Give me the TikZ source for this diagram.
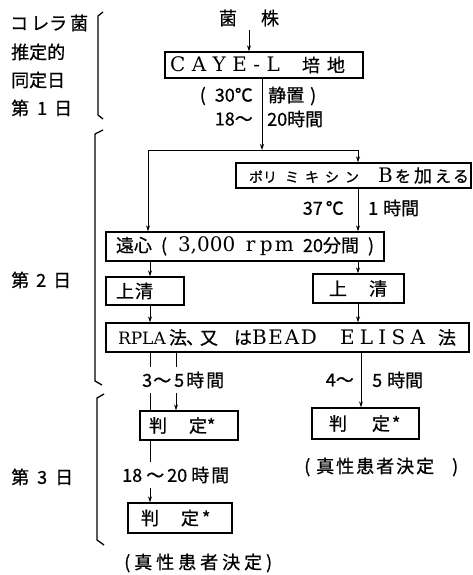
\documentclass[tikz,border=0pt]{standalone}
\usepackage{fontspec}
\newfontfamily\jp[FakeBold=0.7]{Noto Sans CJK JP}
\newfontfamily\lat{DejaVu Serif}
\usetikzlibrary{arrows.meta}
\newcommand\jpf{\jp\fontsize{18}{20}\selectfont}
\newcommand\jps{\jp\fontsize{14}{16}\selectfont}
\newcommand\jpm{\jp\fontsize{16}{18}\selectfont}
\newcommand\lmf{\lat\fontsize{20}{22}\selectfont}
\newcommand\lms{\lat\fontsize{17}{20}\selectfont}
\newcommand\putx[2]{\rlap{\hspace*{#1}#2}}
\tikzset{
  box/.style={draw, line width=1.4pt, inner sep=0pt, font=\jpf},
  txt/.style={inner sep=0pt, font=\jpf},
  conn/.style={line width=0.9pt},
  arr/.style={conn, -{Stealth[length=6pt,width=4pt]}},
  brk/.style={line width=1.3pt, line join=round},
  gap/.style={txt, fill=white, minimum height=26pt},
}
\begin{document}
\begin{tikzpicture}[x=1pt,y=-1pt]
\useasboundingbox (0,0) rectangle (473,575);

% ---------- left day labels ----------
\node[txt, anchor=west] (l1a) at (10,23) {\makebox[80pt][l]{\putx{0pt}{コ}\putx{21pt}{レ}\putx{39pt}{ラ}\putx{60pt}{菌}}};
\node[txt, anchor=west] (l1b) at (11,52) {推定的};
\node[txt, anchor=west] (l1c) at (11,80) {同定日};
\node[txt, anchor=west] (l1d) at (11,108) {\makebox[58pt][l]{\putx{0pt}{第}\putx{26pt}{1}\putx{43pt}{日}}};
\node[txt, anchor=west] (l2) at (11,280) {\makebox[58pt][l]{\putx{0pt}{第}\putx{25pt}{2}\putx{42pt}{日}}};
\node[txt, anchor=west] (l3) at (11,477) {\makebox[60pt][l]{\putx{0pt}{第}\putx{26pt}{3}\putx{44pt}{日}}};

% brackets
\draw[brk] (103,12) -- (98,16) -- (98,115) -- (103,119);
\draw[brk] (103,130) -- (95,134) -- (95,381) -- (102,385);
\draw[brk] (104,394) -- (97,398) -- (97,540) -- (104,545);

% ---------- boxes ----------
\node[txt] (strain) at (249,18) {\makebox[60pt][s]{菌\hfill 株}};

\node[box, minimum width=198pt, minimum height=26pt] (caye) at (264,65)
  {\makebox[198pt][l]{\hspace*{5pt}{\lmf\makebox[110pt][s]{C\hfill A\hfill Y\hfill E\hfill -\hfill L}}\hspace*{22pt}\makebox[43pt][s]{培\hfill 地}}};

\node[box, minimum width=235pt, minimum height=25pt] (poly) at (353.5,175.5)
  {\makebox[235pt][l]{\jps\putx{13pt}{ポ}\putx{27pt}{リ}\putx{49pt}{ミ}\putx{69pt}{キ}\putx{89pt}{シ}\putx{109pt}{ン}\putx{142pt}{\lmf B}\putx{159pt}{\jpm を}\putx{178pt}{\jpf 加}\putx{199pt}{\jpm え}\putx{217pt}{\jpm る}}};

\node[box, minimum width=278pt, minimum height=29pt] (enshin) at (245,246.5)
  {\makebox[278pt][l]{\putx{10pt}{遠心}\putx{55pt}{(}\putx{72pt}{\lmf 3,000}\putx{140pt}{\lmf r}\putx{154pt}{\lmf p}\putx{169pt}{\lmf m}\putx{197pt}{20分間}\putx{262pt}{)}}};

\node[box, minimum width=78pt, minimum height=28pt] (sup1) at (145,291)
  {\makebox[78pt][l]{\putx{10pt}{上}\putx{29pt}{清}}};
\node[box, minimum width=91pt, minimum height=29pt] (sup2) at (358.5,288.5)
  {\makebox[91pt][l]{\putx{16pt}{上}\putx{56pt}{清}}};

\node[box, minimum width=363pt, minimum height=29pt] (rpla) at (287.5,337.5)
  {\makebox[363pt][l]{\putx{12pt}{\lms RPLA}\putx{63pt}{法}\putx{80pt}{、}\putx{94pt}{又}\putx{128pt}{は}\putx{146pt}{\lmf\makebox[65pt][s]{B\hfill E\hfill A\hfill D}}\putx{234pt}{\lmf\makebox[85pt][s]{E\hfill L\hfill I\hfill S\hfill A}}\putx{332pt}{法}}};

\node[box, minimum width=98pt, minimum height=29pt] (j1) at (189,425.5)
  {\makebox[98pt][l]{\putx{9pt}{判}\putx{49pt}{定}\putx{67pt}{*}}};
\node[box, minimum width=104pt, minimum height=30pt] (j2) at (180,518)
  {\makebox[104pt][l]{\putx{13pt}{判}\putx{53pt}{定}\putx{74pt}{*}}};
\node[box, minimum width=107pt, minimum height=31pt] (judgeR) at (365.5,423.5)
  {\makebox[107pt][l]{\putx{17pt}{判}\putx{60pt}{定}\putx{80pt}{*}}};

% ---------- helper coordinates ----------
\coordinate (jc) at (262,150);
\coordinate (jl) at (148,150);
\coordinate (jrt) at (358,150);
\coordinate (lx) at (150,0);
\coordinate (mx) at (176,0);
\coordinate (rx) at (361,0);

% ---------- connectors ----------
\draw[arr, shorten <=4pt] (strain.south) -- (strain.south |- caye.north);
\draw[arr] (caye.south -| jc) -- (jc);
\draw[conn] (jl) -- (jrt);
\draw[arr] (jl) -- (jl |- enshin.north);
\draw[arr] (jrt) -- (jrt |- poly.north);
\draw[arr] (poly.south -| jrt) -- (enshin.north -| jrt);
\draw[arr] (enshin.south -| lx) -- (sup1.north -| lx);
\draw[arr] (sup1.south -| lx) -- (rpla.north -| lx);
\draw[arr] (enshin.south -| jrt) -- (sup2.north -| jrt);
\draw[arr] (sup2.south -| jrt) -- (rpla.north -| jrt);
\draw[conn] (rpla.south -| lx) -- (j1.north -| lx);
\draw[arr] (rpla.south -| mx) -- (j1.north -| mx);
\draw[arr] (j1.south -| lx) -- (j2.north -| lx);
\draw[arr] (rpla.south -| rx) -- (judgeR.north -| rx);

% ---------- condition labels ----------
\node[txt, anchor=east] (t30) at (253,96) {(\hspace{9pt}30℃};
\node[txt, anchor=west] (tsei) at (268,96) {静置\hspace{6pt})};
\node[txt, anchor=east] (t18) at (253,119) {18～};
\node[txt, anchor=west] (t20) at (267,119) {20時間};
\node[txt, anchor=east] (t37) at (344,208) {37\hspace{3pt}℃};
\node[txt, anchor=west] (t1h) at (368,208) {1\hspace{5pt}時間};
\node[gap, anchor=west] (t35) at (141,380)
  {\makebox[84pt][l]{\putx{1pt}{3}\putx{12pt}{～}\putx{33pt}{5}\putx{45pt}{時}\putx{65pt}{間}}};
\node[txt, anchor=east] (t4) at (354,380) {4～};
\node[txt, anchor=west] (t5) at (372,380) {5\hspace{5pt}時間};
\node[gap, anchor=west] (t1820) at (121,475)
  {\makebox[110pt][l]{\putx{1pt}{18}\putx{25pt}{～}\putx{46pt}{20}\putx{70pt}{時}\putx{90pt}{間}}};

% ---------- results ----------
\node[txt, anchor=west] (resR) at (304,467)
  {\makebox[156pt][l]{\putx{0pt}{(}\putx{12pt}{真}\putx{32pt}{性}\putx{52pt}{患}\putx{72pt}{者}\putx{92pt}{決}\putx{112pt}{定}\putx{148pt}{)}}};
\node[txt, anchor=west] (resL) at (124,563)
  {\makebox[148pt][s]{(\hfill 真\hfill 性\hfill 患\hfill 者\hfill 決\hfill 定\hfill )}};
\end{tikzpicture}
\end{document}
